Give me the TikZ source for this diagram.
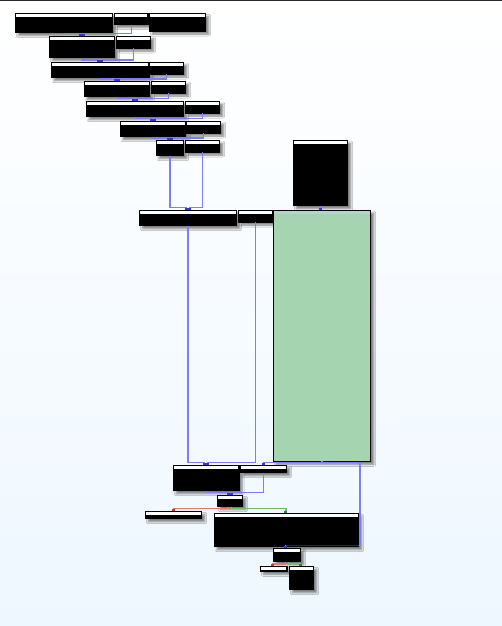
\documentclass[tikz,border=0pt]{standalone}
\usetikzlibrary{calc,shadows.blur,arrows.meta}
\definecolor{bgbot}{RGB}{238,247,255}
\definecolor{topbar}{RGB}{40,40,56}
\definecolor{grfill}{RGB}{165,213,176}
\definecolor{grhead}{RGB}{180,212,210}
\definecolor{bline}{RGB}{125,125,250}
\definecolor{btip}{RGB}{50,50,225}
\definecolor{bdark}{RGB}{30,30,120}
\definecolor{rline}{RGB}{225,120,120}
\definecolor{rtip}{RGB}{210,50,50}
\definecolor{gline}{RGB}{125,180,125}
\definecolor{gtip}{RGB}{50,130,50}
\tikzset{
  blk/.style={draw=black, line width=0.9pt, fill=black, inner sep=0pt, outer sep=0pt, anchor=north west,
    blur shadow={shadow xshift=3pt, shadow yshift=-3pt, shadow opacity=50, shadow blur radius=2pt, shadow blur steps=6}},
  bl/.style={draw=bline, line width=1.5pt, -{Rectangle[length=2pt,width=3pt,color=btip]}},
  rl/.style={draw=rline, line width=1.5pt, -{Rectangle[length=2pt,width=3pt,color=rtip]}},
  gl/.style={draw=gline, line width=1.5pt, -{Rectangle[length=2pt,width=3pt,color=gtip]}},
}
\newcommand\bx[5]{%
  \node[blk, minimum width={#4-#2}, minimum height={#5-#3}] (#1) at (#2,#3) {};
  \fill[white] ($(#1.north west)+(1,1)$) rectangle ($(#1.north east)+(-1,3.8)$);}
\newcommand\edg[5]{% style, src, tgt, dx, dy
  \draw[#1] (#2.south) |- ($(#3.north)+(#4,-#5)$) -- ($(#3.north)+(#4,0)$);}
\begin{document}
\begin{tikzpicture}[x=1pt,y=-1pt]
\useasboundingbox (0,0) rectangle (502,626);
\shade[top color=white, bottom color=bgbot] (0,0) rectangle (502,626);
\fill[topbar] (0,0) rectangle (502,1.5);
% boxes
\bx{A1}{15.3}{13.3}{112.7}{32.7}
\bx{A2}{114.3}{13.3}{148.3}{24.7}
\bx{A3}{149.3}{13.3}{205.7}{31}
\bx{B1}{49.3}{36}{114.7}{57.7}
\bx{B2}{116}{36}{150.7}{48}
\bx{C1}{51}{62}{149}{77.7}
\bx{C2}{149}{62}{183.7}{74}
\bx{D1}{84}{81}{149.7}{96.7}
\bx{D2}{151}{81}{185.7}{93}
\bx{E1}{86}{101}{183.7}{116.7}
\bx{E2}{185}{101}{219.7}{113}
\bx{F1}{120}{121}{185.7}{136.7}
\bx{F2}{186}{121}{220.7}{133}
\bx{G1}{156}{140}{183.7}{155.7}
\bx{G2}{185}{140}{219.7}{152}
\bx{T}{293.3}{140}{347.7}{205.7}
\bx{H1}{139.3}{210}{236.7}{225.7}
\bx{H2}{238.3}{210}{272.7}{222}
\node[blk, fill=grfill, minimum width=97.4, minimum height=251.3] (GR) at (273.3,210) {};
\fill[grhead] ($(GR.north west)+(0.5,0.5)$) rectangle ($(GR.north east)+(-0.5,3.5)$);
\bx{I1}{173.3}{465}{239}{490.7}
\bx{I2}{240.3}{465}{286.7}{472.7}
\bx{L}{217.3}{495.3}{242.7}{506.7}
\bx{M}{145.3}{511.3}{201.7}{518.7}
\bx{J}{214}{513.3}{358.7}{546.7}
\bx{K}{273}{548.3}{300.7}{561.7}
\bx{N}{260.3}{566.3}{287.3}{571.3}
\bx{O}{289.3}{566.3}{313.7}{589.7}
% edges
\edg{bl}{A1}{B1}{-1.5}{2.3}
\edg{bl}{A2}{B1}{1.5}{2.3}
\edg{bl}{B1}{C1}{-1.5}{2}
\edg{bl}{B2}{C1}{1.5}{2}
\edg{bl}{C1}{D1}{-1.5}{2}
\edg{bl}{C2}{D1}{1.5}{2}
\edg{bl}{D1}{E1}{-1.5}{2.3}
\edg{bl}{D2}{E1}{1.5}{2.3}
\edg{bl}{E1}{F1}{-1.5}{2.7}
\edg{bl}{E2}{F1}{1.5}{2.7}
\edg{bl}{F1}{G1}{-1.5}{2}
\edg{bl}{F2}{G1}{1.5}{2}
\edg{bl}{G1}{H1}{-1.5}{2.3}
\edg{bl}{G2}{H1}{1.5}{2.3}
\draw[bl] (T.south) -- (T.south |- GR.north);
\edg{bl}{H1}{I1}{-1.5}{2.3}
\edg{bl}{H2}{I1}{1.5}{2.3}
\edg{bl}{GR}{I2}{0}{2.3}
\draw[bl] (GR.south) -- ++(0,1.4) -| ($(J.east)+(1.3,0)$) |- ($(K.north)+(-1.2,-2.6)$) -- ($(K.north)+(-1.2,0)$);
\begin{scope}
  \clip (J.north west) rectangle (J.south east);
  \draw[draw=bdark, line width=1.5pt] ($(J.east)+(1.3,0)$) |- ($(K.north)+(-1.2,-2.6)$);
\end{scope}
\edg{bl}{I1}{L}{-1.5}{2.6}
\edg{bl}{I2}{L}{1.5}{2.6}
\draw[rl] ($(L.south)+(-2,0)$) |- ($(M.north)+(0,-2.6)$) -- (M.north);
\draw[gl] ($(L.south)+(1,0)$) |- ($(J.north)+(-0.6,-4.6)$) -- ($(J.north)+(-0.6,0)$);
\draw[rl] ($(K.south)+(-1.5,0)$) |- ($(N.north)+(-1,-2.3)$) -- ($(N.north)+(-1,0)$);
\draw[gl] ($(K.south)+(1.5,0)$) |- ($(O.north)+(-0.8,-2.3)$) -- ($(O.north)+(-0.8,0)$);
\end{tikzpicture}
\end{document}
